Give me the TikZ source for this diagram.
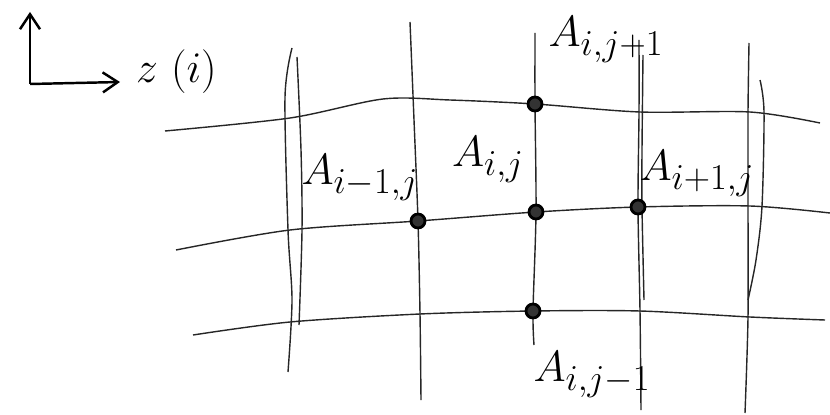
\documentclass[tikz,border=0pt]{standalone}
\usetikzlibrary{positioning,arrows.meta}

\begin{document}
\begin{tikzpicture}[x=0.2mm, y=-0.2mm, >={Straight Barb[length=3mm, width=4mm]},
  gline/.style={line width=0.8pt, black!85},
  pt/.style={draw, circle, line width=1.6pt, fill=black!80, inner sep=0pt, minimum size=2.8mm},
  lbl/.style={font=\Huge},
  axis/.style={line width=1.4pt, ->}]
  \useasboundingbox (0,0) rectangle (830,415);

  % axes
  \coordinate (o) at (30,84);
  \coordinate (rax) at (30,12);
  \coordinate (zax) at (120,82);
  \draw[axis] (o) -- (rax);
  \draw[axis] (o) -- (zax);
  \node[lbl, right=2mm of zax, yshift=2mm] (zlbl) {$z$ ($i$)};

  % grid, horizontal
  \draw[gline] plot[smooth] coordinates {(165,131) (290,118) (383,99) (450,100) (535,104) (640,112) (750,112) (820,123)};
  \draw[gline] plot[smooth] coordinates {(176,250) (290,230) (418,221) (536,212) (638,207) (750,206) (830,213)};
  \draw[gline] plot[smooth] coordinates {(193,335) (290,322) (420,314) (533,311) (640,311) (750,317) (825,320)};

  % grid, vertical
  \draw[gline] plot[smooth] coordinates {(292,48) (285,97) (288,230) (292,300) (288,372)};
  \draw[gline] plot[smooth] coordinates {(297,57) (301,150) (302,230) (299,325)};
  \draw[gline] plot[smooth] coordinates {(410,22) (414,120) (418,221) (420,314) (421,400)};
  \draw[gline] plot[smooth] coordinates {(535,33) (535,104) (536,212) (533,311) (534,345)};
  \draw[gline] plot[smooth] coordinates {(639,40) (639,112) (638,207) (640,311) (641,410)};
  \draw[gline] plot[smooth] coordinates {(643,55) (642,150) (642,207) (644,300)};
  \draw[gline] plot[smooth] coordinates {(749,43) (748,112) (748,206) (748,317) (745,413)};
  \draw[gline] plot[smooth] coordinates {(760,80) (764,112) (762,206) (756,260) (748,300)};

  % points
  \node[pt] (ijp) at (535,104) {};
  \node[pt] (imj) at (418,221) {};
  \node[pt] (ij) at (536,212) {};
  \node[pt] (ipj) at (638,207) {};
  \node[pt] (ijm) at (533,311) {};

  \node[lbl] (ijplbl) at (606,40) {$A_{i,j+1}$};
  \node[lbl] (imjlbl) at (360,178) {$A_{i-1,j}$};
  \node[lbl] (ijlbl) at (488,160) {$A_{i,j}$};
  \node[lbl] (ipjlbl) at (697,174) {$A_{i+1,j}$};
  \node[lbl] (ijmlbl) at (592,375) {$A_{i,j-1}$};
\end{tikzpicture}
\end{document}
